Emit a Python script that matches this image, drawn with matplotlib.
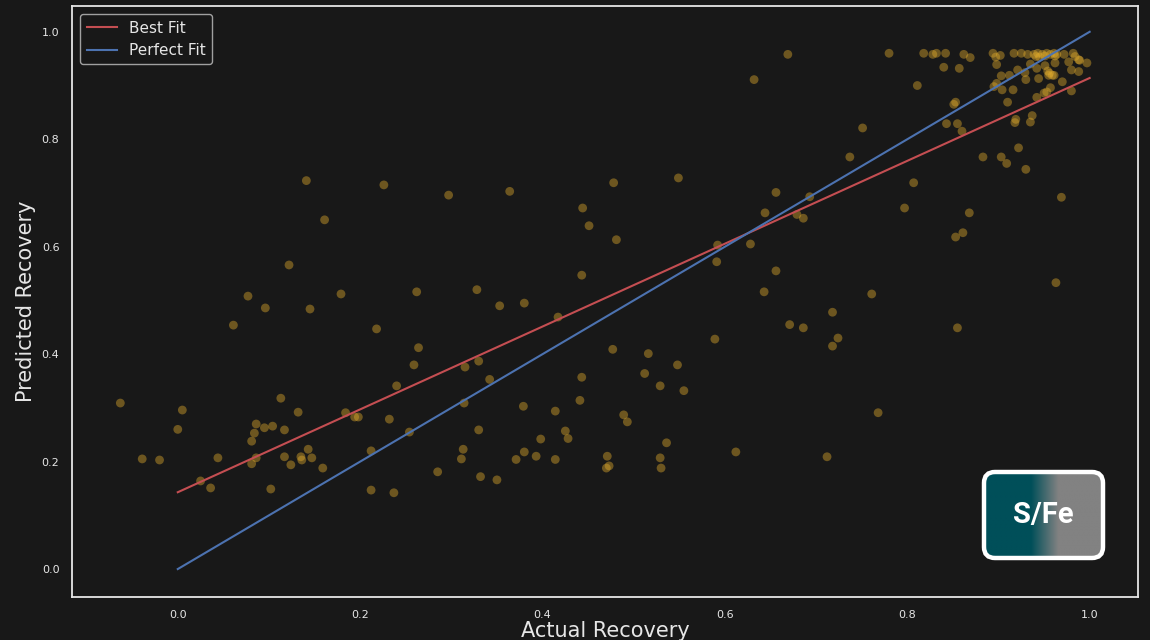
import numpy as np
import matplotlib
matplotlib.use("Agg")
import matplotlib.pyplot as plt
from matplotlib.patches import FancyBboxPatch
from matplotlib.colors import to_rgb

# ---- data ----
actual = [
    -0.063, -0.039, -0.020, 0.000, 0.005, 0.025, 0.036, 0.044, 0.061, 0.077,
    0.081, 0.084, 0.086, 0.081, 0.086, 0.095, 0.096, 0.104, 0.102, 0.113,
    0.117, 0.117, 0.122, 0.124, 0.132, 0.135, 0.136, 0.143, 0.141, 0.145,
    0.147, 0.159, 0.161, 0.179, 0.184, 0.194, 0.198, 0.212, 0.212, 0.218,
    0.226, 0.232, 0.237, 0.240, 0.254, 0.259, 0.262, 0.264, 0.285, 0.297,
    0.313, 0.311, 0.314, 0.315, 0.328, 0.330, 0.330, 0.332, 0.342, 0.350,
    0.353, 0.364, 0.371, 0.379, 0.380, 0.380, 0.393, 0.398, 0.414, 0.414,
    0.417, 0.425, 0.428, 0.441, 0.443, 0.443, 0.444, 0.451, 0.470, 0.473,
    0.471, 0.477, 0.478, 0.481, 0.489, 0.493, 0.512, 0.516, 0.529, 0.529,
    0.530, 0.536, 0.548, 0.549, 0.555, 0.589, 0.591, 0.592, 0.612, 0.628,
    0.632, 0.643, 0.644, 0.656, 0.656, 0.669, 0.671, 0.679, 0.686, 0.686,
    0.693, 0.712, 0.718, 0.718, 0.724, 0.737, 0.751, 0.761, 0.768, 0.780,
    0.797, 0.807, 0.811, 0.818, 0.828, 0.832, 0.840, 0.842, 0.843, 0.851,
    0.853, 0.853, 0.855, 0.855, 0.857, 0.860, 0.861, 0.862, 0.868, 0.869,
    0.883, 0.894, 0.895, 0.897, 0.898, 0.898, 0.902, 0.903, 0.903, 0.904,
    0.909, 0.910, 0.912, 0.916, 0.917, 0.918, 0.919, 0.921, 0.922, 0.925,
    0.929, 0.930, 0.930, 0.932, 0.935, 0.935, 0.937, 0.939, 0.941, 0.942,
    0.942, 0.943, 0.944, 0.945, 0.948, 0.950, 0.951, 0.951, 0.953, 0.953,
    0.954, 0.955, 0.956, 0.957, 0.957, 0.959, 0.961, 0.961, 0.962, 0.962,
    0.963, 0.964, 0.969, 0.970, 0.972, 0.977, 0.980, 0.980, 0.982, 0.984,
    0.988, 0.988, 0.989, 0.997,
]
predicted = [
    0.309, 0.205, 0.203, 0.260, 0.296, 0.164, 0.151, 0.207, 0.454, 0.508,
    0.238, 0.253, 0.270, 0.196, 0.207, 0.263, 0.486, 0.266, 0.149, 0.318,
    0.259, 0.209, 0.566, 0.194, 0.292, 0.209, 0.203, 0.223, 0.723, 0.484,
    0.207, 0.188, 0.650, 0.512, 0.291, 0.283, 0.283, 0.147, 0.220, 0.447,
    0.715, 0.279, 0.142, 0.341, 0.255, 0.380, 0.516, 0.412, 0.181, 0.696,
    0.223, 0.205, 0.309, 0.376, 0.520, 0.387, 0.259, 0.172, 0.353, 0.166,
    0.490, 0.703, 0.204, 0.303, 0.495, 0.218, 0.210, 0.242, 0.294, 0.204,
    0.469, 0.257, 0.243, 0.314, 0.357, 0.547, 0.672, 0.639, 0.188, 0.192,
    0.210, 0.409, 0.719, 0.613, 0.287, 0.274, 0.364, 0.401, 0.341, 0.207,
    0.188, 0.235, 0.380, 0.728, 0.332, 0.428, 0.572, 0.603, 0.218, 0.605,
    0.911, 0.516, 0.663, 0.701, 0.555, 0.958, 0.455, 0.660, 0.653, 0.449,
    0.693, 0.209, 0.478, 0.415, 0.430, 0.767, 0.821, 0.512, 0.291, 0.960,
    0.672, 0.719, 0.900, 0.960, 0.958, 0.960, 0.934, 0.960, 0.829, 0.865,
    0.869, 0.618, 0.829, 0.449, 0.932, 0.815, 0.626, 0.958, 0.663, 0.952,
    0.767, 0.960, 0.898, 0.953, 0.939, 0.904, 0.956, 0.918, 0.767, 0.892,
    0.755, 0.869, 0.919, 0.892, 0.960, 0.831, 0.837, 0.929, 0.784, 0.960,
    0.924, 0.911, 0.744, 0.958, 0.832, 0.940, 0.844, 0.958, 0.954, 0.932,
    0.878, 0.960, 0.913, 0.953, 0.958, 0.886, 0.955, 0.937, 0.960, 0.888,
    0.927, 0.919, 0.923, 0.958, 0.896, 0.919, 0.960, 0.919, 0.955, 0.942,
    0.533, 0.958, 0.692, 0.907, 0.958, 0.944, 0.929, 0.890, 0.960, 0.954,
    0.948, 0.926, 0.947, 0.942,
]
best_fit_x = [0.0, 1.0]
best_fit_y = [0.143, 0.914]
perfect_fit_x = [0.0, 1.0]
perfect_fit_y = [0.0, 1.0]
x_ticks = [0.0, 0.2, 0.4, 0.6, 0.8, 1.0]
y_ticks = [0.0, 0.2, 0.4, 0.6, 0.8, 1.0]
badge_text = "S/Fe"

BG = "#181818"
FG = "#e6e6e6"

fig = plt.figure(figsize=(11.5, 6.4), dpi=100, facecolor=BG)
ax = fig.add_axes([72/1150, 1-597/640, (1138-72)/1150, (597-6)/640])
ax.set_facecolor(BG)

ax.scatter(actual, predicted, s=40, color="#e3ad2c", alpha=0.42,
           edgecolors="none", zorder=2)
ax.plot(best_fit_x, best_fit_y, color="#c44e52", lw=1.5, label="Best Fit", zorder=3)
ax.plot(perfect_fit_x, perfect_fit_y, color="#4c72b0", lw=1.5, label="Perfect Fit", zorder=3)

ax.set_xlim(-0.116, 1.053)
ax.set_ylim(-0.052, 1.048)
ax.set_xticks(x_ticks)
ax.set_yticks(y_ticks)
ax.set_xticklabels([f"{t:.1f}" for t in x_ticks])
ax.set_yticklabels([f"{t:.1f}" for t in y_ticks])
ax.tick_params(colors=FG, labelsize=8, length=0, pad=9)
for sp in ax.spines.values():
    sp.set_color(FG)
    sp.set_linewidth(1.3)

ax.set_xlabel("Actual Recovery", color=FG, fontsize=15, labelpad=1)
ax.set_ylabel("Predicted Recovery", color=FG, fontsize=15, labelpad=4)

leg = ax.legend(loc="upper left", fontsize=11, facecolor=BG, edgecolor="#a0a0a0",
                framealpha=1.0, borderaxespad=0.55)
for t in leg.get_texts():
    t.set_color(FG)

# ---- badge ----
bx0, by0, bw, bh = 981, 469, 125, 92
bax = fig.add_axes([bx0/1150, 1-(by0+bh)/640, bw/1150, bh/640])
bax.set_xlim(0, bw)
bax.set_ylim(0, bh)
bax.axis("off")
teal = np.array(to_rgb("#004f59"))
gray = np.array(to_rgb("#828282"))
pos = np.linspace(0, 1, 300)
frac = np.clip((pos - 0.40) / 0.22, 0, 1)
grad = teal[None, :] * (1 - frac[:, None]) + gray[None, :] * frac[:, None]
img = bax.imshow(grad[None, :, :], extent=(0, bw, 0, bh), aspect="auto", zorder=1)
clip = FancyBboxPatch((3, 3), bw-6, bh-6, boxstyle="round,pad=0,rounding_size=11",
                      transform=bax.transData, facecolor="none", edgecolor="none")
bax.add_patch(clip)
img.set_clip_path(clip)
frame = FancyBboxPatch((3, 3), bw-6, bh-6, boxstyle="round,pad=0,rounding_size=11",
                       facecolor="none", edgecolor="white", linewidth=3.2, zorder=3)
bax.add_patch(frame)
bax.text(bw/2, bh/2, badge_text, color="white", fontsize=21, fontweight="bold",
         family="Roboto", ha="center", va="center", zorder=4)

fig.savefig("out.png", dpi=100, facecolor=BG)
